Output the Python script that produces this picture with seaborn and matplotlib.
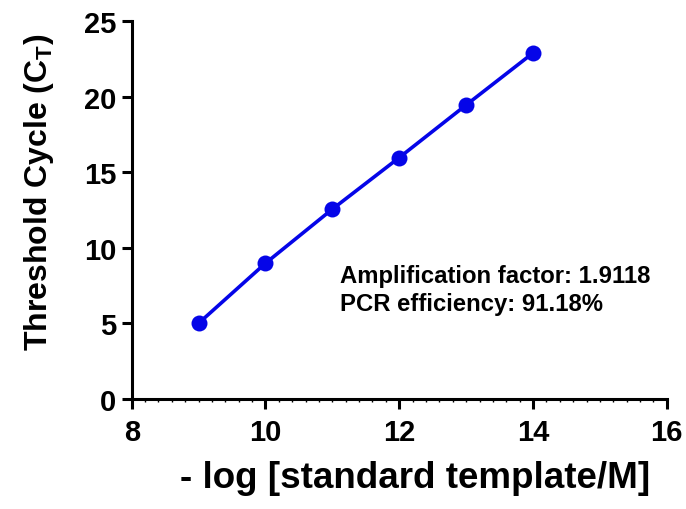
import matplotlib
matplotlib.use("Agg")
import matplotlib.pyplot as plt
import seaborn as sns
import pandas as pd
from matplotlib.ticker import MultipleLocator

# data
neg_log_conc = [9, 10, 11, 12, 13, 14]
ct_values = [5.0, 8.97, 12.55, 15.96, 19.44, 22.88]
x_ticks = [8, 10, 12, 14, 16]
y_ticks = [0, 5, 10, 15, 20, 25]
annotation_lines = ["Amplification factor: 1.9118", "PCR efficiency: 91.18%"]

sns.set_style("ticks")
plt.rcParams['font.family'] = ['Liberation Sans', 'DejaVu Sans']
plt.rcParams['font.weight'] = 'bold'
plt.rcParams['text.color'] = 'black'
plt.rcParams['axes.labelcolor'] = 'black'
plt.rcParams['xtick.color'] = 'black'
plt.rcParams['ytick.color'] = 'black'

df = pd.DataFrame({"x": neg_log_conc, "y": ct_values})

fig = plt.figure(figsize=(6.86, 5.10), dpi=100)
ax = fig.add_axes([0.192, 0.216, 0.780, 0.741])

sns.lineplot(data=df, x="x", y="y", ax=ax, color="#0505e8", linewidth=2.6,
             marker="o", markersize=11.5, markeredgewidth=0, clip_on=False)

ax.set_xlim(8, 16)
ax.set_ylim(0, 25)
ax.set_xticks(x_ticks)
ax.set_yticks(y_ticks)
ax.xaxis.set_minor_locator(MultipleLocator(0.2))

for s in ["top", "right"]:
    ax.spines[s].set_visible(False)
for s in ["left", "bottom"]:
    ax.spines[s].set_linewidth(2.2)
    ax.spines[s].set_color("black")

ax.tick_params(axis="both", which="major", length=7, width=2.2, labelsize=21,
               colors="black", labelcolor="black", direction="out")
ax.tick_params(axis="x", which="major", pad=7)
ax.tick_params(axis="y", which="major", pad=4)
ax.tick_params(axis="x", which="minor", length=2, width=1.0, colors="black")
for lab in ax.get_xticklabels() + ax.get_yticklabels():
    lab.set_fontweight("bold")

ax.set_xlabel("- log [standard template/M]", fontsize=26.5, fontweight="bold",
              labelpad=10, color="black", x=0.53)
ax.set_ylabel("Threshold Cycle (C$_\\mathregular{T}$)", fontsize=23, fontweight="bold",
              labelpad=20, color="black", y=0.55)

ax.text(11.12, 8.95, "\n".join(annotation_lines), fontsize=17.2, fontweight="bold",
        ha="left", va="top", linespacing=1.3, color="black")

fig.savefig("out.png", dpi=100)
